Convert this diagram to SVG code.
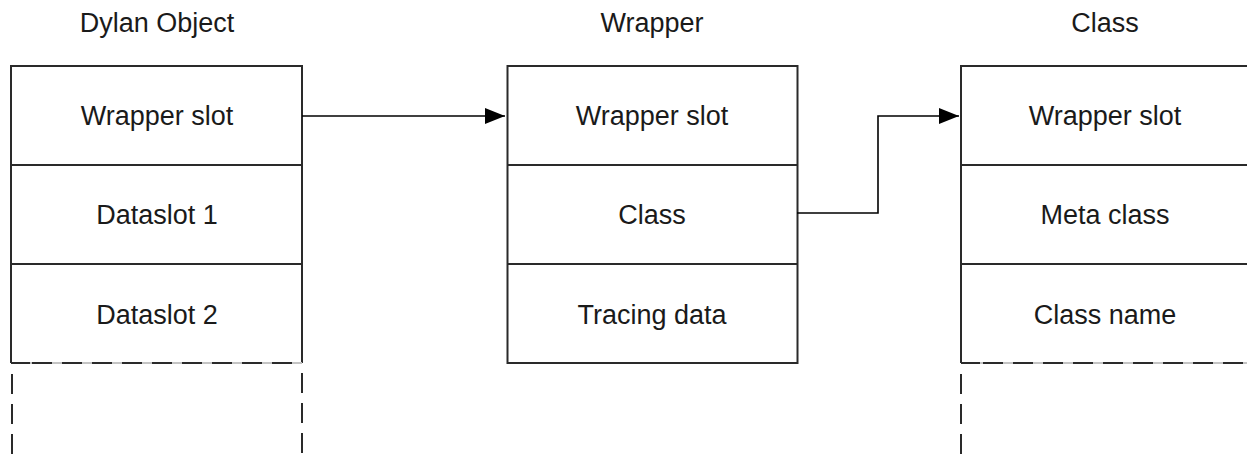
<svg xmlns="http://www.w3.org/2000/svg" width="1247" height="459" viewBox="0 0 1247 459">
<defs>
<style>
.t{font-family:"Liberation Sans",Arial,sans-serif;font-size:27px;fill:#1a1a1a;text-anchor:middle}
.box{fill:#fff;stroke:#2a2a2a;stroke-width:2}
.div{stroke:#2a2a2a;stroke-width:2;fill:none}
.gray{stroke:#c4c4c4;stroke-width:2;fill:none}
.dash{stroke:#2a2a2a;stroke-width:2;fill:none;stroke-dasharray:20 10}
.conn{stroke:#000;stroke-width:1.6;fill:none}
</style>
<marker id="arr" markerWidth="20" markerHeight="16" refX="20" refY="8" orient="auto" markerUnits="userSpaceOnUse">
<path d="M0,0 L20,8 L0,16 Z" fill="#000"/>
</marker>
</defs>
<rect width="1247" height="459" fill="#fff"/>

<g id="dylan-object">
<text class="t" x="157" y="32">Dylan Object</text>
<path class="div" d="M11,363 V66 H302 V363"/>
<path class="div" d="M11,165 H302 M11,264 H302"/>
<path class="gray" d="M11,363 H302"/>
<path class="div" d="M11,363 H30"/>
<path class="dash" d="M32,363 H302"/>
<path class="dash" d="M12,374 V459 M302,373 V459"/>
<text class="t" x="157" y="125">Wrapper slot</text>
<text class="t" x="157" y="224">Dataslot 1</text>
<text class="t" x="157" y="324">Dataslot 2</text>
</g>

<g id="wrapper">
<text class="t" x="652" y="32">Wrapper</text>
<rect class="box" x="507.5" y="66" width="290" height="297"/>
<path class="div" d="M507.5,165 H797.5 M507.5,264 H797.5"/>
<text class="t" x="652" y="125">Wrapper slot</text>
<text class="t" x="652" y="224">Class</text>
<text class="t" x="652" y="324">Tracing data</text>
</g>

<g id="class">
<text class="t" x="1105" y="32">Class</text>
<path class="div" d="M961,363 V66 H1252"/>
<path class="div" d="M961,165 H1252 M961,264 H1252"/>
<path class="gray" d="M961,363 H1252"/>
<path class="div" d="M961,363 H980"/>
<path class="dash" d="M983,363 H1252"/>
<path class="dash" d="M961,374 V459"/>
<text class="t" x="1105" y="125">Wrapper slot</text>
<text class="t" x="1105" y="224">Meta class</text>
<text class="t" x="1105" y="324">Class name</text>
</g>

<g id="connectors">
<path class="conn" d="M302,116 H505" marker-end="url(#arr)"/>
<path class="conn" d="M797,213 H878 V116 H959" marker-end="url(#arr)"/>
</g>
</svg>
